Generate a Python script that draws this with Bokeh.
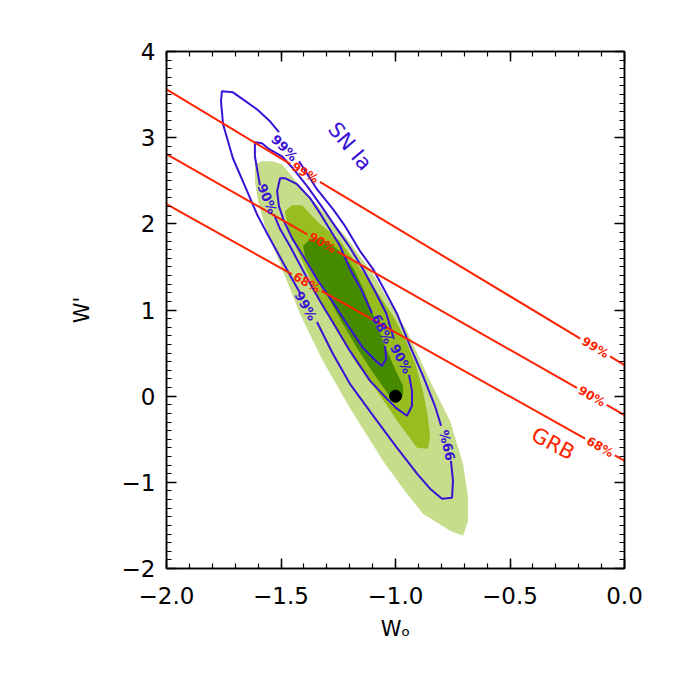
import numpy as np
from bokeh.plotting import figure
from bokeh.models import LinearAxis, SingleIntervalTicker, CustomJSTickFormatter
from bokeh.core.properties import value
from bokeh.embed import file_html
from bokeh.resources import INLINE

nan = float("nan")

# ---- axis ticks ----
x_ticks = [-2.0, -1.5, -1.0, -0.5, 0.0]
x_tick_labels = ["\u22122.0", "\u22121.5", "\u22121.0", "\u22120.5", "0.0"]
y_ticks = [-2, -1, 0, 1, 2, 3, 4]
y_tick_labels = ["\u22122", "\u22121", "0", "1", "2", "3", "4"]

# ---- SN Ia filled confidence regions (w0, w') ----
light_x = [-1.614, -1.583, -1.539, -1.496, -1.417, -1.317, -1.212, -1.098, -1.011, -0.950, -0.849, -0.762,
           -0.705, -0.683, -0.683, -0.705, -0.762, -0.880, -0.950, -1.055, -1.199, -1.317, -1.417, -1.474,
           -1.526, -1.570, -1.600, -1.614]
light_y = [2.692, 2.727, 2.727, 2.692, 2.437, 2.147, 1.834, 1.417, 1.023, 0.757, 0.177, -0.286,
           -0.784, -1.178, -1.445, -1.619, -1.561, -1.364, -1.132, -0.750, -0.136, 0.409, 0.954, 1.336,
           1.684, 1.973, 2.263, 2.495]

mid_x = [-1.483, -1.452, -1.408, -1.343, -1.242, -1.155, -1.068, -1.002, -0.954, -0.910, -0.880, -0.859,
         -0.849, -0.859, -0.906, -0.993, -1.081, -1.168, -1.255, -1.338, -1.417, -1.469]
mid_y = [2.147, 2.217, 2.217, 2.031, 1.800, 1.487, 1.162, 0.896, 0.641, 0.351, 0.061, -0.228,
         -0.483, -0.611, -0.599, -0.286, 0.061, 0.374, 0.757, 1.162, 1.626, 1.939]

dark_x = [-1.404, -1.373, -1.330, -1.286, -1.220, -1.177, -1.133, -1.090, -1.046, -1.002, -0.967, -0.967,
          -0.993, -1.033, -1.103, -1.168, -1.242, -1.308, -1.365, -1.395]
dark_y = [1.742, 1.823, 1.834, 1.776, 1.626, 1.452, 1.197, 0.896, 0.583, 0.316, 0.119, 0.004,
          -0.078, 0.027, 0.293, 0.560, 0.896, 1.220, 1.475, 1.626]

# ---- SN Ia contour lines (NaN = break at the inline label) ----
sn99_x = [-1.417, -1.483, -1.566, -1.605, -1.648, -1.710, -1.753, -1.762, -1.758, -1.710, -1.666, -1.605,
          -1.548, -1.509, nan,
          -1.421, -1.343, -1.273, -1.220, -1.155, -1.098, -1.046, -0.993, -0.937, -0.880, -0.828, -0.801, nan,
          -0.758, -0.749, -0.753, -0.797, -0.849, -0.906, -0.993, -1.081, -1.199, -1.273, -1.343]
sn99_y = [1.197, 1.510, 1.915, 2.112, 2.379, 2.761, 3.155, 3.422, 3.538, 3.526, 3.445, 3.329,
          3.190, 3.063, nan,
          2.727, 2.402, 2.170, 1.973, 1.684, 1.475, 1.220, 0.954, 0.583, 0.235, -0.112, -0.344, nan,
          -0.750, -0.981, -1.178, -1.190, -1.074, -0.900, -0.599, -0.286, 0.143, 0.490, 0.861]

sn90_x = [-1.531, -1.504, -1.461, -1.391, -1.330, -1.264, -1.199, -1.111, -1.037, -0.998, -0.950, -0.928,
          -0.928, -0.941, nan,
          -1.007, -1.041, -1.090, -1.142, -1.203, -1.264, -1.330, -1.386, -1.452, -1.496, -1.557, -1.583,
          -1.614, -1.614, -1.605, -1.592]
sn90_y = [2.112, 1.939, 1.742, 1.394, 1.104, 0.815, 0.525, 0.177, -0.031, -0.136, -0.228, -0.112,
          0.061, 0.247, nan,
          0.664, 0.965, 1.220, 1.475, 1.742, 1.973, 2.228, 2.437, 2.657, 2.784, 2.877, 2.935,
          2.947, 2.784, 2.645, 2.448]

sn68_x = [-1.046, -1.041, -1.059, -1.085, -1.142, -1.212, -1.277, -1.338, -1.395, -1.452, -1.487, -1.509,
          -1.517, -1.504, -1.483, -1.430, -1.373, -1.330, -1.295, -1.242, -1.199, -1.146, -1.103]
sn68_y = [0.583, 0.432, 0.351, 0.409, 0.560, 0.838, 1.104, 1.336, 1.591, 1.834, 2.031, 2.205,
          2.379, 2.530, 2.530, 2.460, 2.298, 2.124, 1.973, 1.742, 1.475, 1.220, 0.965]

# ---- GRB confidence bands (straight lines) ----
grb_levels = ["99%", "90%", "68%"]
grb_y_at_left = [3.56, 2.81, 2.23]      # w' at w0 = -2
grb_y_at_right = [0.36, -0.22, -0.75]   # w' at w0 = 0
grb_lab_x_left = [-1.395, -1.320, -1.388]
grb_lab_x_right = [-0.128, -0.143, -0.107]

best_w0 = [-1.0]
best_wp = [0.0]

BLUE = "#3a12d6"
RED = "#ff2200"
FONT = "DejaVu Sans"

p = figure(width=665, height=665, x_range=(-2, 0), y_range=(-2, 4),
           output_backend="svg", toolbar_location=None,
           min_border_left=166, min_border_right=41, min_border_top=51, min_border_bottom=97)
p.xgrid.visible = False
p.ygrid.visible = False
p.outline_line_color = "black"
p.outline_line_width = 1.5
p.background_fill_color = "white"

xfmt = CustomJSTickFormatter(args=dict(v=x_ticks, l=x_tick_labels), code="""
for (let i = 0; i < v.length; i++) { if (Math.abs(v[i] - tick) < 1e-6) return l[i]; }
return '';""")
yfmt = CustomJSTickFormatter(args=dict(v=y_ticks, l=y_tick_labels), code="""
for (let i = 0; i < v.length; i++) { if (Math.abs(v[i] - tick) < 1e-6) return l[i]; }
return '';""")

def style(ax, ticker, fmt, show):
    ax.ticker = ticker
    ax.formatter = fmt
    ax.axis_line_color = "black"
    ax.axis_line_width = 1.5
    ax.major_tick_in = 10
    ax.major_tick_out = 0
    ax.minor_tick_in = 5
    ax.minor_tick_out = 0
    ax.major_tick_line_width = 1.5
    ax.minor_tick_line_width = 1.2
    ax.major_label_text_font = FONT
    ax.major_label_text_font_size = "23px"
    ax.major_label_text_color = "black" if show else None
    ax.axis_label_text_font = FONT
    ax.axis_label_text_font_style = "normal"
    ax.axis_label_text_font_size = "21px"
    ax.axis_label_text_color = "black"

xt = SingleIntervalTicker(interval=0.5, num_minor_ticks=5)
yt = SingleIntervalTicker(interval=1, num_minor_ticks=10)
style(p.xaxis[0], xt, xfmt, True)
style(p.yaxis[0], yt, yfmt, True)
p.xaxis[0].major_label_standoff = 18
p.yaxis[0].major_label_standoff = 11
p.xaxis[0].axis_label = "W\u2092"
p.yaxis[0].axis_label = "W'"
p.xaxis[0].axis_label_standoff = 10
p.yaxis[0].axis_label_standoff = 25

top = LinearAxis()
style(top, SingleIntervalTicker(interval=0.5, num_minor_ticks=5), xfmt, False)
top.major_label_text_font_size = "0px"
p.add_layout(top, "above")
right = LinearAxis()
style(right, SingleIntervalTicker(interval=1, num_minor_ticks=10), yfmt, False)
right.major_label_text_font_size = "0px"
p.add_layout(right, "right")

# filled regions
p.patch(light_x, light_y, fill_color="#c6dd8b", line_color=None)
p.patch(mid_x, mid_y, fill_color="#97bd1f", line_color=None)
p.patch(dark_x, dark_y, fill_color="#468a00", line_color=None)

# SN contour lines
for cx, cy in [(sn99_x, sn99_y), (sn90_x, sn90_y), (sn68_x, sn68_y)]:
    p.line(cx, cy, line_color=BLUE, line_width=2)

# GRB lines with gaps at the labels
gap = 0.065
xs, ys = [], []
for y0, y1, xl, xr in zip(grb_y_at_left, grb_y_at_right, grb_lab_x_left, grb_lab_x_right):
    f = lambda x: y0 + (y1 - y0) * (x + 2.0) / 2.0
    for a, b in [(-2.0, xl - gap), (xl + gap, xr - gap), (xr + gap, 0.0)]:
        xs.append([a, b])
        ys.append([f(a), f(b)])
p.multi_line(xs, ys, line_color=RED, line_width=2)

lx, ly, la, lt = [], [], [], []
for lev, y0, y1, xl, xr in zip(grb_levels, grb_y_at_left, grb_y_at_right, grb_lab_x_left, grb_lab_x_right):
    sl = (y1 - y0) / 2.0
    ang = -np.arctan(-sl * (517 / 6) / (458 / 2))
    for xx in (xl, xr):
        lx.append(xx)
        ly.append(y0 + sl * (xx + 2.0))
        la.append(ang)
        lt.append(lev)
p.text(lx, ly, text=lt, angle=la, text_color=RED, text_font=value(FONT), text_font_size="12px",
       text_font_style="bold", text_align="center", text_baseline="middle")

# SN contour labels
sn_lab_x = [-1.485, -1.560, -1.392, -1.058, -0.976, -0.773]
sn_lab_y = [2.880, 2.290, 1.046, 0.780, 0.432, -0.570]
sn_lab_t = ["99%", "90%", "99%", "68%", "90%", "99%"]
sn_lab_a = [-45, -67, -60, -63, -62, 104]
p.text(sn_lab_x, sn_lab_y, text=sn_lab_t, angle=[np.deg2rad(a) for a in sn_lab_a],
       text_color=BLUE, text_font=value(FONT), text_font_size="13px", text_font_style="bold",
       text_align="center", text_baseline="middle")

p.text([-1.199], [2.90], text=["SN Ia"], angle=[np.deg2rad(-50)], text_color=BLUE,
       text_font=value(FONT), text_font_size="21px", text_align="center", text_baseline="middle")
p.text([-0.312], [-0.553], text=["GRB"], angle=[np.deg2rad(-28)], text_color=RED,
       text_font=value(FONT), text_font_size="21px", text_align="center", text_baseline="middle")

p.scatter(best_w0, best_wp, size=12, fill_color="black", line_color="black")

open("out.html", "w").write(file_html(p, INLINE))
